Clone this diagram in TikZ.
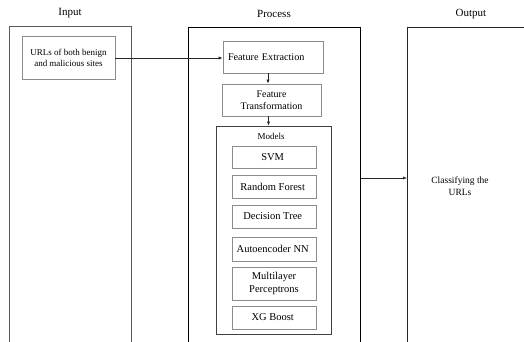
\documentclass[tikz,border=0pt]{standalone}
\usepackage{fontspec}
\setmainfont{Liberation Serif}
\usetikzlibrary{arrows.meta,shadows}

\tikzset{
    col/.style={draw=#1,line width=1pt,rectangle,anchor=north west,inner sep=0pt},
    hdr/.style={font=\fontsize{11}{13}\selectfont},
    box/.style={draw=black!45,line width=0.7pt,fill=white,align=center,inner sep=2pt,
        drop shadow={opacity=0.2,shadow xshift=0.8pt,shadow yshift=-0.8pt},
        font=\fontsize{10}{12}\selectfont},
    mbox/.style={box,minimum width=84pt,font=\fontsize{10.5}{12.5}\selectfont},
    link/.style={->,line width=0.6pt,draw=black!85},
}

\begin{document}
\begin{tikzpicture}[x=1pt,y=-1pt,>={Latex[length=4pt,width=3.2pt]}]
            \useasboundingbox (0,0) rectangle (524,341);
            \clip (0,0) rectangle (524,341);

            % column headers
            \node[hdr] (inlbl) at (70,13) { Input };
            \node[hdr] (prlbl) at (274,14) { Process };
            \node[hdr] (outlbl) at (471,14) { Output };

            % columns, open at the bottom of the page
            \node[col=black!65,minimum width=122pt,minimum height=330pt] (incol) at (9,26) {};
            \node[col=black,minimum width=172pt,minimum height=330pt] (proc) at (188,27) {};
            \node[col=black!85,minimum width=128pt,minimum height=330pt] (outcol) at (407,27) {};

            \node[box,minimum width=93pt,minimum height=43pt,font=\fontsize{9}{11.5}\selectfont] (urls) at (68.5,58) { URLs of both benign\\and malicious sites };
            \node[box,minimum height=32pt,text width=90pt,align=left,inner xsep=5pt,font=\fontsize{10.2}{12}\selectfont] (fe) at (273,57) { Feature Extraction };
            \node[box,minimum width=99pt,minimum height=32pt] (ft) at (271.5,100) { Feature\\Transformation };

            \node[draw=black!75,line width=0.9pt,minimum width=115pt,minimum height=208pt] (models) at (273.5,230) {};
            \node[font=\fontsize{9}{11}\selectfont] (mdlbl) at (271,136) { Models };
            \node[mbox,minimum height=22pt] (svm) at (274,157) { SVM };
            \node[mbox,minimum height=23pt] (rf) at (274,186.5) { Random Forest };
            \node[mbox,minimum height=23pt] (dt) at (274,216.5) { Decision Tree };
            \node[mbox,minimum height=24pt] (ae) at (274,249) { Autoencoder NN };
            \node[mbox,minimum height=33pt] (mlp) at (274,283.5) { Multilayer\\Perceptrons };
            \node[mbox,minimum height=23pt] (xgb) at (274,317.5) { XG Boost };

            \node[align=center,font=\fontsize{9.5}{12}\selectfont] (cls) at (460,186) { Classifying the\\URLs };
            \coordinate (tap) at (0,178);

            \draw[link] (urls) -- (urls -| fe.west);
            \draw[link] ([xshift=-5pt]fe.south) -- ([xshift=-5pt]fe.south |- ft.north);
            \draw[link] ([xshift=-3pt]ft.south) -- ([xshift=-3pt]ft.south |- models.north);
            \draw[link] (proc.east |- tap) -- (outcol.west |- tap);

        \end{tikzpicture}
\end{document}
